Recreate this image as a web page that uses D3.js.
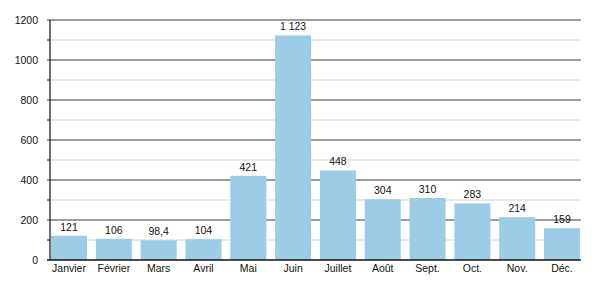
<!DOCTYPE html>
<html>
<head>
<meta charset="utf-8">
<script src="https://cdn.jsdelivr.net/npm/d3@7"></script>
<style>
body { margin: 0; background: #fff; }
text { font-family: "Liberation Sans", Arial, sans-serif; fill: #111; }
</style>
</head>
<body>
<svg width="600" height="300"></svg>
<script>
let months = ["Janvier", "Février", "Mars", "Avril", "Mai", "Juin", "Juillet", "Août", "Sept.", "Oct.", "Nov.", "Déc."];
let values = [121, 106, 98.4, 104, 421, 1123, 448, 304, 310, 283, 214, 159];
let labels = ["121", "106", "98,4", "104", "421", "1 123", "448", "304", "310", "283", "214", "159"];
let yTicks = [0, 200, 400, 600, 800, 1000, 1200];
let yMinor = [100, 300, 500, 700, 900, 1100];

let plot = {left: 50, right: 581, top: 20, bottom: 260};
let fontSize = 10.5;

let svg = d3.select("svg");

let x = d3.scaleBand()
    .domain(months)
    .range([plot.left + 1, plot.right - 1])
    .paddingInner(0.196)
    .paddingOuter(0);

let y = d3.scaleLinear()
    .domain([0, 1200])
    .range([plot.bottom, plot.top]);

// minor grid
svg.append("g").selectAll("line")
    .data(yMinor)
    .enter()
    .append("line")
    .attr("x1", plot.left - 3)
    .attr("x2", plot.right)
    .attr("y1", d => y(d))
    .attr("y2", d => y(d))
    .attr("stroke", "#d2d2d2")
    .attr("stroke-width", 1);

// major grid
svg.append("g").selectAll("line")
    .data(yTicks.filter(d => d > 0))
    .enter()
    .append("line")
    .attr("x1", plot.left - 3)
    .attr("x2", plot.right)
    .attr("y1", d => y(d))
    .attr("y2", d => y(d))
    .attr("stroke", "#3a3a3a")
    .attr("stroke-width", 1);

// minor tick stubs on axis
svg.append("g").selectAll("line")
    .data(yMinor)
    .enter()
    .append("line")
    .attr("x1", plot.left - 3)
    .attr("x2", plot.left)
    .attr("y1", d => y(d))
    .attr("y2", d => y(d))
    .attr("stroke", "#222");

// bars
svg.append("g").selectAll("rect")
    .data(values)
    .enter()
    .append("rect")
    .attr("x", (d, i) => x(months[i]))
    .attr("width", x.bandwidth())
    .attr("y", d => y(d))
    .attr("height", d => y(0) - y(d))
    .attr("fill", "#9dcde6");

// value labels
svg.append("g").selectAll("text")
    .data(values)
    .enter()
    .append("text")
    .attr("x", (d, i) => x(months[i]) + x.bandwidth() / 2)
    .attr("y", d => y(d) - 5)
    .attr("text-anchor", "middle")
    .attr("font-size", fontSize)
    .text((d, i) => labels[i]);

// y axis
svg.append("line")
    .attr("x1", plot.left).attr("x2", plot.left)
    .attr("y1", plot.top).attr("y2", plot.bottom)
    .attr("stroke", "#111").attr("stroke-width", 1.2);

svg.append("g").selectAll("text")
    .data(yTicks)
    .enter()
    .append("text")
    .attr("x", 38)
    .attr("y", d => y(d) + 4)
    .attr("text-anchor", "end")
    .attr("font-size", fontSize)
    .text(d => d);

// x axis
svg.append("line")
    .attr("x1", plot.left - 3).attr("x2", plot.right)
    .attr("y1", plot.bottom).attr("y2", plot.bottom)
    .attr("stroke", "#111").attr("stroke-width", 1.4);

svg.append("g").selectAll("text")
    .data(months)
    .enter()
    .append("text")
    .attr("x", d => x(d) + x.bandwidth() / 2)
    .attr("y", plot.bottom + 12)
    .attr("text-anchor", "middle")
    .attr("font-size", fontSize)
    .text(d => d);
</script>
</body>
</html>
